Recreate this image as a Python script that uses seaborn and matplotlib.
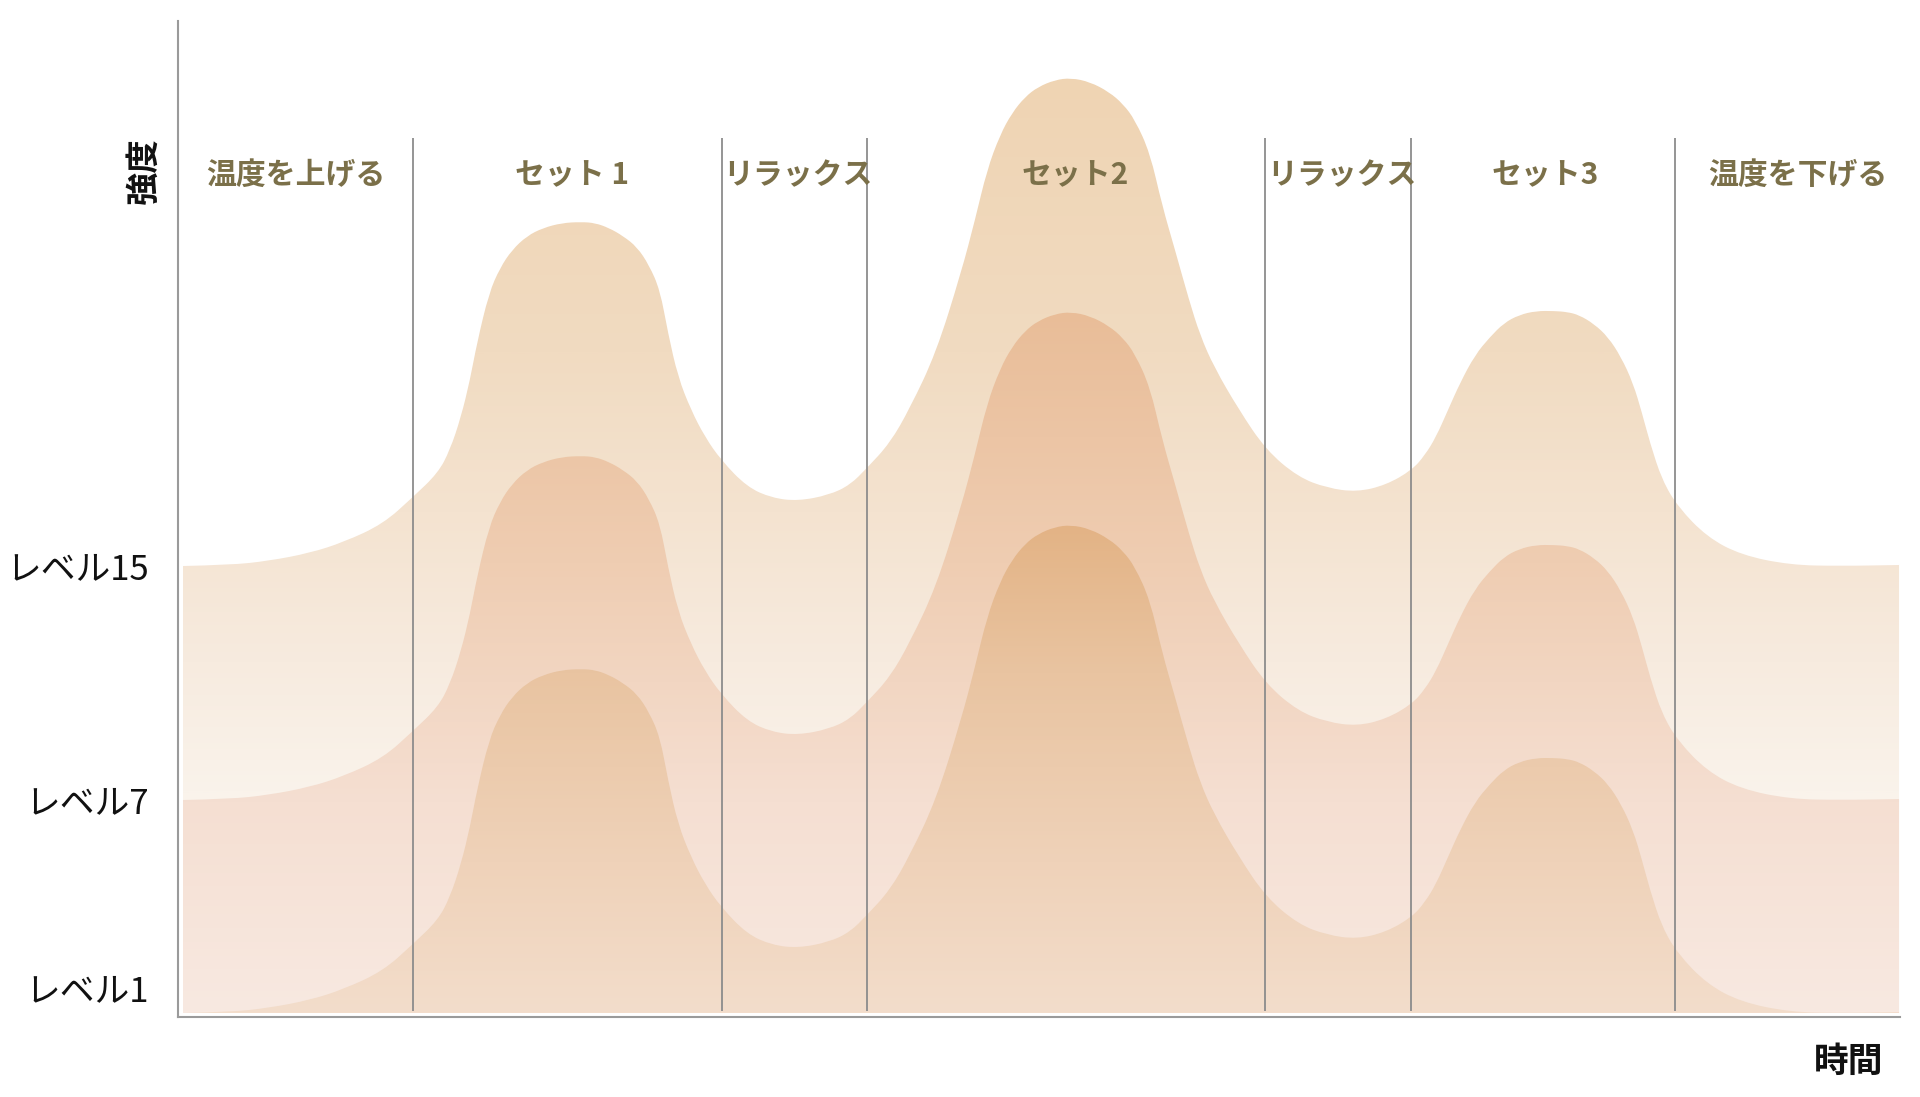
import numpy as np
import seaborn as sns
import matplotlib.pyplot as plt
from matplotlib.colors import LinearSegmentedColormap
from matplotlib.path import Path
from matplotlib.patches import PathPatch
from matplotlib.transforms import blended_transform_factory

sns.set_theme(style='white')
plt.rcParams['font.family'] = ['Noto Sans CJK JP', 'DejaVu Sans']

# time axis (arbitrary units) and intensity of the three layers
time = [0.5, 5.2, 9.0, 13.2, 16.6, 20.5, 23.5, 26.0, 27.2, 28.3,
        29.2, 29.9, 31.1, 32.2, 33.4, 34.9, 36.5, 38.4, 40.3, 41.7,
        43.1, 44.5, 45.9, 47.1, 48.2, 49.0, 50.0, 51.3, 52.7, 54.3,
        56.9, 59.4, 62.0, 65.1, 67.2, 68.9, 71.2, 73.2, 75.8, 78.3,
        79.7, 80.9, 82.2, 83.4, 84.7, 86.0, 87.7, 89.3, 91.2, 93.1,
        94.5, 95.7, 97.2, 98.4, 99.7, 101.1, 102.2, 103.6, 106.1, 108.8,
        112.0, 114.9, 117.9, 120.8, 123.4, 124.7, 125.8, 127.0, 128.2, 129.7,
        131.2, 132.6, 134.1, 135.8, 137.6, 138.9, 140.1, 141.6, 143.0, 144.3,
        145.5, 146.4, 147.2, 148.4, 150.0, 152.9, 156.3, 161.2, 166.2, 172.1]

intensity_top = [44.7, 44.8, 45.2, 46.0, 47.1, 48.9, 51.6, 54.0, 56.3, 59.6,
                 63.3, 67.0, 72.0, 74.5, 76.3, 77.7, 78.5, 79.0, 79.1, 79.0,
                 78.5, 77.7, 76.6, 74.8, 72.3, 68.0, 63.6, 60.3, 57.6, 55.3,
                 52.6, 51.5, 51.2, 51.8, 52.8, 54.5, 57.0, 60.5, 66.0, 74.0,
                 79.3, 84.3, 87.8, 90.0, 91.6, 92.6, 93.3, 93.5, 93.1, 92.1,
                 90.9, 89.3, 86.0, 80.8, 76.3, 71.3, 67.8, 64.6, 60.3, 56.3,
                 53.6, 52.5, 52.1, 52.8, 54.3, 55.8, 57.6, 60.3, 63.0, 65.8,
                 67.6, 69.0, 69.8, 70.2, 70.2, 70.1, 69.8, 68.9, 67.6, 65.6,
                 63.0, 60.0, 57.0, 53.3, 50.6, 47.6, 45.8, 44.8, 44.7, 44.8]

intensity_mid = [21.3, 21.4, 21.8, 22.6, 23.7, 25.5, 28.2, 30.6, 32.9, 36.2,
                 39.9, 43.6, 48.6, 51.1, 52.9, 54.3, 55.1, 55.6, 55.7, 55.6,
                 55.1, 54.3, 53.2, 51.4, 48.9, 44.6, 40.2, 36.9, 34.2, 31.9,
                 29.2, 28.1, 27.8, 28.4, 29.4, 31.1, 33.6, 37.1, 42.6, 50.6,
                 55.9, 60.9, 64.4, 66.6, 68.2, 69.2, 69.9, 70.1, 69.7, 68.7,
                 67.5, 65.9, 62.6, 57.4, 52.9, 47.9, 44.4, 41.2, 36.9, 32.9,
                 30.2, 29.1, 28.7, 29.4, 30.9, 32.4, 34.2, 36.9, 39.6, 42.4,
                 44.2, 45.6, 46.4, 46.8, 46.8, 46.7, 46.4, 45.5, 44.2, 42.2,
                 39.6, 36.6, 33.6, 29.9, 27.2, 24.2, 22.4, 21.4, 21.3, 21.4]

intensity_low = [0.0, 0.1, 0.5, 1.3, 2.4, 4.2, 6.9, 9.3, 11.6, 14.9,
                 18.6, 22.3, 27.3, 29.8, 31.6, 33.0, 33.8, 34.3, 34.4, 34.3,
                 33.8, 33.0, 31.9, 30.1, 27.6, 23.3, 18.9, 15.6, 12.9, 10.6,
                 7.9, 6.8, 6.5, 7.1, 8.1, 9.8, 12.3, 15.8, 21.3, 29.3,
                 34.6, 39.6, 43.1, 45.3, 46.9, 47.9, 48.6, 48.8, 48.4, 47.4,
                 46.2, 44.6, 41.3, 36.1, 31.6, 26.6, 23.1, 19.9, 15.6, 11.6,
                 8.9, 7.8, 7.4, 8.1, 9.6, 11.1, 12.9, 15.6, 18.3, 21.1,
                 22.9, 24.3, 25.1, 25.5, 25.5, 25.4, 25.1, 24.2, 22.9, 20.9,
                 18.3, 15.3, 12.3, 8.6, 5.9, 2.9, 1.1, 0.1, 0.0, 0.1]

phase_names = ['温度を上げる', 'セット 1', 'リラックス', 'セット2', 'リラックス', 'セット3', '温度を下げる']
phase_centers = [11.8, 39.4, 62.0, 89.7, 116.4, 136.7, 162.0]
phase_bounds = [23.5, 54.4, 68.9, 108.7, 123.3, 149.7]

level_ticks = [2.5, 21.3, 44.7]
level_labels = ['レベル1', 'レベル7', 'レベル15']

# colour stops (intensity, colour) for the vertical gradients
top_stops = [(0, '#fdfaf6'), (22, '#faf3eb'), (35, '#f7ebdf'), (50, '#f4e3d0'),
             (66, '#f1dbc1'), (93.5, '#efd4b3')]
mid_stops = [(0, '#f8e9e1'), (21, '#f5dfd2'), (45, '#efcdb2'), (70.1, '#e9bd98')]
low_stops = [(0, '#f3ddcb'), (15, '#efd2b9'), (34, '#e9c4a1'), (48.8, '#e3b385')]


def area_path(x, y):
    # outline of the area under the curve, corners rounded with quadratic segments
    verts = [(x[0], 0), (x[0], y[0])]
    codes = [Path.MOVETO, Path.LINETO]
    for i in range(1, len(x) - 1):
        verts += [(x[i], y[i]), ((x[i] + x[i + 1]) / 2, (y[i] + y[i + 1]) / 2)]
        codes += [Path.CURVE3, Path.CURVE3]
    verts += [(x[-1], y[-1]), (x[-1], 0), (x[0], 0)]
    codes += [Path.LINETO, Path.LINETO, Path.CLOSEPOLY]
    return Path(verts, codes)


def gradient_layer(ax, x, y, stops, z):
    top = max(y)
    patch = PathPatch(area_path(x, y), facecolor='none', edgecolor='none',
                      transform=ax.transData, zorder=z)
    ax.add_patch(patch)
    cmap = LinearSegmentedColormap.from_list('g', [(min(v / top, 1.0), c) for v, c in stops])
    grad = np.linspace(0, 1, 512).reshape(-1, 1)
    im = ax.imshow(grad, extent=[x[0], x[-1], 0, top], origin='lower', aspect='auto',
                   cmap=cmap, zorder=z, interpolation='bilinear')
    im.set_clip_path(patch)


fig = plt.figure(figsize=(19.2, 10.97), dpi=100)
ax = fig.add_axes([0.0927, 0.0729, 0.8969, 0.908])

gradient_layer(ax, time, intensity_top, top_stops, 1)
gradient_layer(ax, time, intensity_mid, mid_stops, 2)
gradient_layer(ax, time, intensity_low, low_stops, 3)

ax.vlines(phase_bounds, 0.2, 87.5, color='#8c8c8c', lw=1.3, zorder=5)

for name, cx in zip(phase_names, phase_centers):
    ax.text(cx, 83.8, name, ha='center', va='center', fontsize=21.5,
            color='#7b7049', fontweight='bold', zorder=6)

ax.set_xlim(0, 172.2)
ax.set_ylim(-0.4, 99.2)
ax.set_xticks([])
ax.set_yticks(level_ticks, level_labels, fontsize=25)
ax.tick_params(axis='y', length=0, pad=21, colors='#111111')
ax.set_xlabel('')
ax.set_ylabel('')

sns.despine(ax=ax)
for side in ['left', 'bottom']:
    ax.spines[side].set_color('#9a9a9a')
    ax.spines[side].set_linewidth(1.5)

trans = blended_transform_factory(ax.transAxes, ax.transData)
ax.text(-0.0197, 84.2, '強度', transform=trans, rotation=90, ha='center', va='center',
        fontsize=24, fontweight='bold', color='#111111')
ax.text(167.1, -4.8, '時間', ha='center', va='center', fontsize=25,
        fontweight='bold', color='#111111', clip_on=False)

fig.savefig('out.png', dpi=100)
